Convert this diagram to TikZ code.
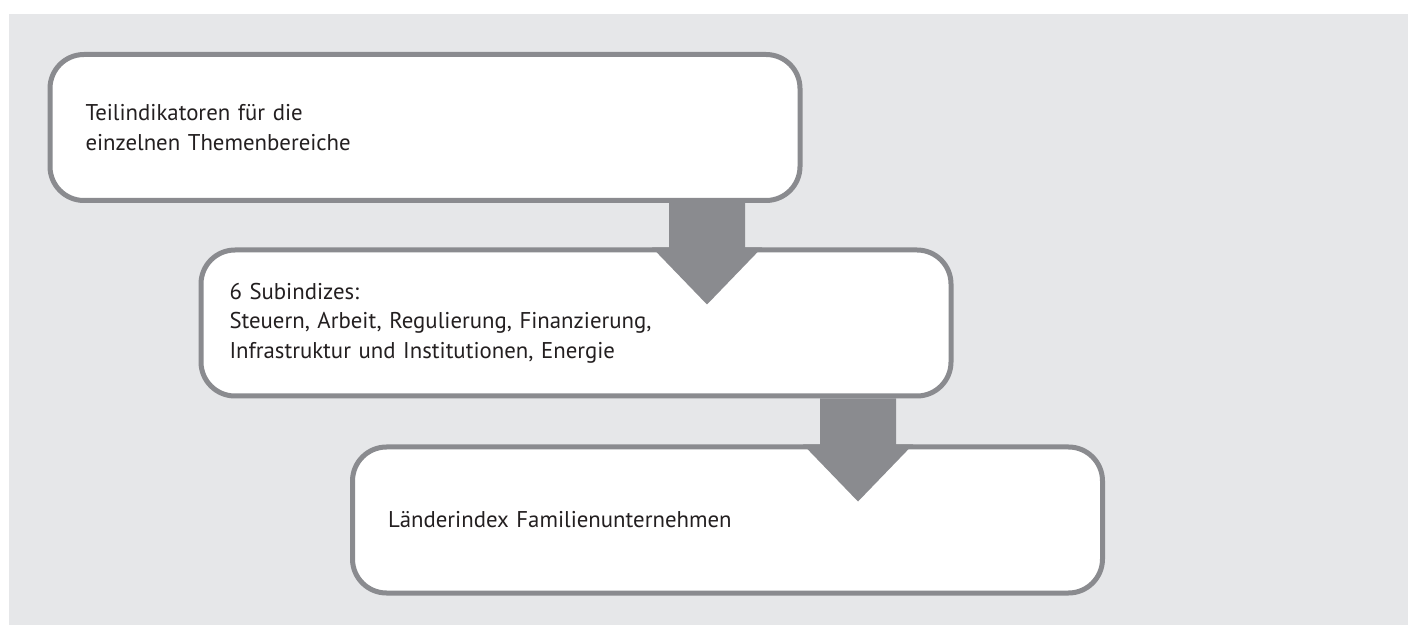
\documentclass[tikz,border=0pt]{standalone}
\usepackage{fontspec}
\setmainfont{PT Sans}
\usetikzlibrary{positioning, calc}

\definecolor{panelgray}{HTML}{E6E7E9}
\definecolor{framegray}{HTML}{8A8B8F}
\definecolor{textdark}{HTML}{231F20}

\begin{document}
\begin{tikzpicture}[
    x=1pt, y=1pt,
    box/.style={rectangle, draw=framegray, line width=2.5pt, fill=white, rounded corners=17pt,
        minimum width=375pt, minimum height=73pt, inner xsep=17.75pt, text width=339.5pt,
        align=left, text=textdark, font=\fontsize{11.4}{14.75}\selectfont},
    flow/.style={fill=framegray}
]
\useasboundingbox (0,0) rectangle (704,-312.5);
\fill[panelgray] (4.5,-7) rectangle (704,-312.5);

\node [box] (ind) at (212.5,-63.75) {Teilindikatoren für die\\einzelnen Themenbereiche};
\node [box, xshift=75.5pt, yshift=-97.75pt, inner xsep=14.25pt, text width=346.5pt] (sub) at (ind)
    {6 Subindizes:\\Steuern, Arbeit, Regulierung, Finanzierung,\\Infrastruktur und Institutionen, Energie};
\node [box, xshift=75.75pt, yshift=-98.5pt] (land) at (sub) {Länderindex Familienunternehmen};

% block arrows between the levels
\foreach \a/\b in {ind/sub, sub/land}
  \fill [flow] let \p1=(\a.south east), \p2=(\b.north), \n1={\x1-47.75pt} in
    (\n1-19pt,\y1) -- (\n1+19pt,\y1) -- (\n1+19pt,\y2) -- (\n1+27.5pt,\y2)
    -- (\n1,\y2-28.5pt) -- (\n1-27.5pt,\y2) -- (\n1-19pt,\y2) -- cycle;
\end{tikzpicture}
\end{document}
